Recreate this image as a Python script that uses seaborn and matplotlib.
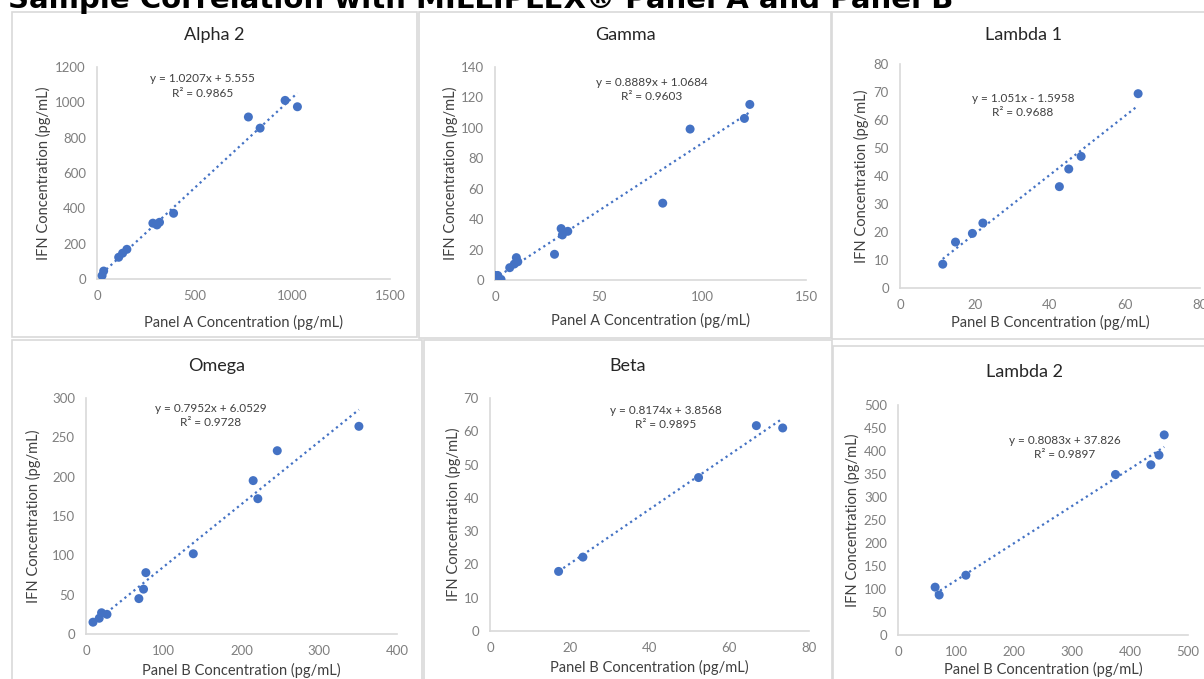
import matplotlib

matplotlib.use("Agg")

import matplotlib.pyplot as plt
import seaborn as sns
from matplotlib.patches import Rectangle

# ── data ──
alpha2_x = [26, 34, 111, 131, 153, 286, 307, 320, 392, 775, 835, 963, 1026]
alpha2_y = [19, 45, 123, 146, 168, 316, 306, 321, 372, 917, 854, 1011, 975]

gamma_x = [0.0, 1.3, 2.9, 7.1, 9.3, 10.3, 11.0, 28.7, 31.9, 32.5, 35.1, 80.9, 94.1, 120.3, 122.9]
gamma_y = [3.0, 3.0, 0.4, 8.1, 10.5, 14.7, 12.0, 16.9, 33.8, 29.6, 32.0, 50.5, 99.2, 106.2, 115.4]

lambda1_x = [11.4, 14.8, 19.3, 22.1, 42.5, 45.0, 48.3, 63.5]
lambda1_y = [8.5, 16.4, 19.5, 23.2, 36.2, 42.5, 47.0, 69.4]

omega_x = [9, 17, 20, 27, 68, 74, 77, 138, 215, 221, 246, 351]
omega_y = [15, 20, 27, 25, 45, 57, 78, 102, 195, 172, 233, 264]

beta_x = [17.2, 23.3, 52.3, 66.8, 73.4]
beta_y = [17.9, 22.2, 46.1, 61.7, 61.0]

lambda2_x = [64, 71, 117, 375, 436, 450, 459]
lambda2_y = [104, 87, 130, 349, 370, 391, 435]

# Excel trendline coefficients (slope, intercept) and R²
alpha2_fit = (1.0207, 5.555, "y = 1.0207x + 5.555", "R² = 0.9865")
gamma_fit = (0.8889, 1.0684, "y = 0.8889x + 1.0684", "R² = 0.9603")
lambda1_fit = (1.051, -1.5958, "y = 1.051x - 1.5958", "R² = 0.9688")
omega_fit = (0.7952, 6.0529, "y = 0.7952x + 6.0529", "R² = 0.9728")
beta_fit = (0.8174, 3.8568, "y = 0.8174x + 3.8568", "R² = 0.9895")
lambda2_fit = (0.8083, 37.826, "y = 0.8083x + 37.826", "R² = 0.9897")

FIG_W, FIG_H = 1204, 679
BLUE = "#4472C4"
GRID_GREY = "#d9d9d9"
TICK_GREY = "#7f7f7f"
LABEL_DARK = "#404040"

sns.set_theme(style="white")
plt.rcParams["font.family"] = ["Lato", "DejaVu Sans"]


def _axes_rect(left, right, top, bottom):
    # pixel box -> figure fraction
    return [left / FIG_W, 1 - bottom / FIG_H, (right - left) / FIG_W, (bottom - top) / FIG_H]


def _panel(fig, box, frame, title, title_y, xs, ys, fit, xlim, ylim, xstep, ystep,
           xlabel, eq_pos, pads):
    # light grey frame around each chart, like the pasted Excel charts
    fx0, fy0, fx1, fy1 = frame
    fig.patches.append(Rectangle((fx0 / FIG_W, 1 - fy1 / FIG_H), (fx1 - fx0) / FIG_W,
                                 (fy1 - fy0) / FIG_H, transform=fig.transFigure,
                                 fill=False, edgecolor=GRID_GREY, linewidth=1.2))

    ax = fig.add_axes(_axes_rect(*box))
    sns.scatterplot(x=xs, y=ys, ax=ax, color=BLUE, s=42, edgecolor="none", zorder=3)

    slope, intercept, eq, r2 = fit
    x0, x1 = min(xs), max(xs)
    ax.plot([x0, x1], [slope * x0 + intercept, slope * x1 + intercept],
            linestyle=(0, (1, 1.6)), color=BLUE, linewidth=1.6, zorder=2)

    ax.set_xlim(*xlim)
    ax.set_ylim(*ylim)
    ax.set_xticks(range(xlim[0], xlim[1] + 1, xstep))
    ax.set_yticks(range(ylim[0], ylim[1] + 1, ystep))
    ax.tick_params(length=0, labelsize=9.5, colors=TICK_GREY, pad=8)
    sns.despine(ax=ax)
    for side in ("left", "bottom"):
        ax.spines[side].set_color(GRID_GREY)
        ax.spines[side].set_linewidth(1.2)

    xpad, ypad = pads
    ax.set_xlabel(xlabel, fontsize=10.5, color=LABEL_DARK, labelpad=xpad)
    ax.set_ylabel("IFN Concentration (pg/mL)", fontsize=10.5, color=LABEL_DARK, labelpad=ypad)

    ex, ey = eq_pos
    ax.text(ex, ey, eq + "\n" + r2, transform=ax.transAxes, ha="center", va="top",
            fontsize=8.5, color=LABEL_DARK, linespacing=1.35, multialignment="center")

    cx = (fx0 + fx1) / 2 / FIG_W
    fig.text(cx, 1 - title_y / FIG_H, title, ha="center", va="center",
             fontsize=13, color="#262626")
    return ax


fig = plt.figure(figsize=(FIG_W / 100, FIG_H / 100), dpi=100)

_panel(fig, (97, 390, 67, 279), (12, 12, 417, 337), "Alpha 2", 35,
       alpha2_x, alpha2_y, alpha2_fit, (0, 1500), (0, 1200), 500, 200,
       "Panel A Concentration (pg/mL)", (0.36, 0.97), (9, 3))
_panel(fig, (495, 806, 67, 280), (419, 12, 831, 338), "Gamma", 35,
       gamma_x, gamma_y, gamma_fit, (0, 150), (0, 140), 50, 20,
       "Panel A Concentration (pg/mL)", (0.505, 0.955), (7, 2))
_panel(fig, (900, 1200, 64, 288), (832, 12, 1215, 339), "Lambda 1", 35,
       lambda1_x, lambda1_y, lambda1_fit, (0, 80), (0, 80), 20, 10,
       "Panel B Concentration (pg/mL)", (0.41, 0.87), (3, 3))
_panel(fig, (86, 397, 398, 634), (12, 340, 422, 690), "Omega", 366,
       omega_x, omega_y, omega_fit, (0, 400), (0, 300), 100, 50,
       "Panel B Concentration (pg/mL)", (0.40, 0.98), (4.5, 8))
_panel(fig, (490, 809, 398, 631), (424, 340, 832, 690), "Beta", 366,
       beta_x, beta_y, beta_fit, (0, 80), (0, 70), 20, 10,
       "Panel B Concentration (pg/mL)", (0.55, 0.97), (4.5, 2))
_panel(fig, (898, 1188, 405, 635), (833, 346, 1215, 690), "Lambda 2", 372,
       lambda2_x, lambda2_y, lambda2_fit, (0, 500), (0, 500), 100, 50,
       "Panel B Concentration (pg/mL)", (0.575, 0.87), (3, 3))

fig.text(8 / FIG_W, 1 - 8 / FIG_H, "Sample Correlation with MILLIPLEX® Panel A and Panel B",
         ha="left", va="baseline", fontsize=21, fontweight="bold", color="black",
         family=["DejaVu Sans"])

fig.savefig("out.png", dpi=100)
